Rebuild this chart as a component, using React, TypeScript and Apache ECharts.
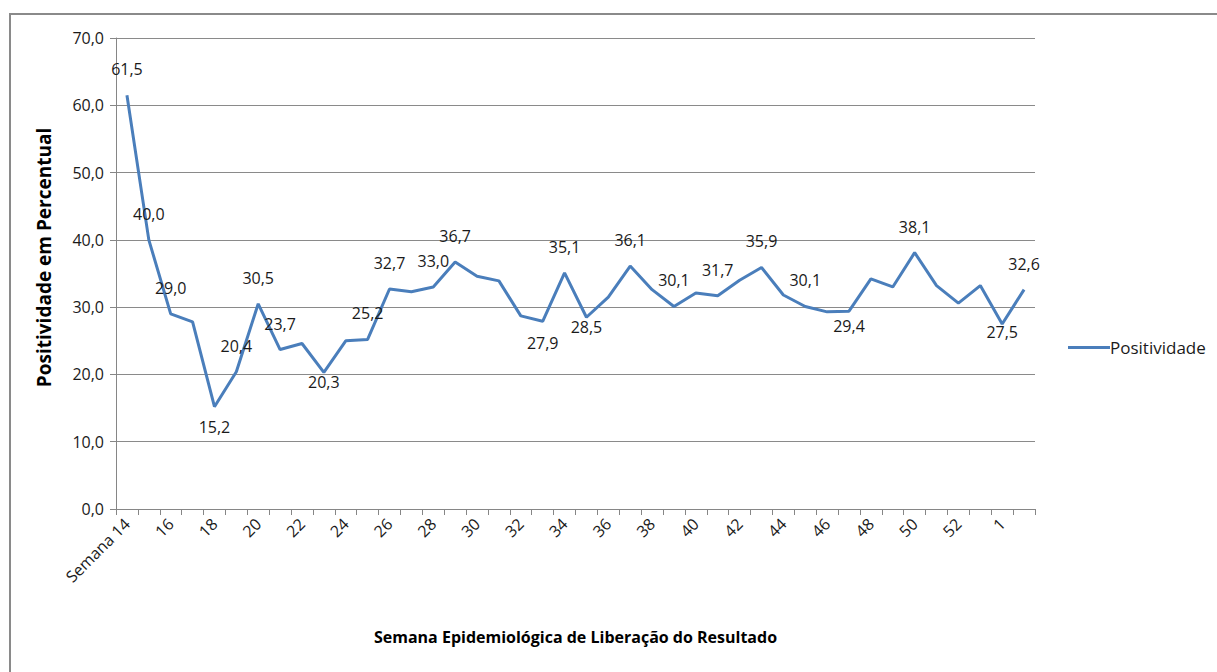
import React, { useEffect, useRef } from "react";
import * as echarts from "echarts";

const weeks: string[] = [
  "Semana 14", "15", "16", "17", "18", "19", "20", "21", "22", "23", "24", "25", "26", "27",
  "28", "29", "30", "31", "32", "33", "34", "35", "36", "37", "38", "39", "40", "41",
  "42", "43", "44", "45", "46", "47", "48", "49", "50", "51", "52", "53", "1", "2",
];

const positividade: number[] = [
  61.5, 40.0, 29.0, 27.8, 15.2, 20.4, 30.5, 23.7, 24.6, 20.3, 25.0, 25.2, 32.7, 32.3,
  33.0, 36.7, 34.6, 33.9, 28.7, 27.9, 35.1, 28.5, 31.5, 36.1, 32.6, 30.1, 32.1, 31.7,
  34.0, 35.9, 31.8, 30.1, 29.3, 29.4, 34.2, 33.0, 38.1, 33.2, 30.6, 33.2, 27.5, 32.6,
];

const yTicks: number[] = [0, 10, 20, 30, 40, 50, 60, 70];

// indices of points whose value is written on the chart, and how the label sits
const labelledAbove: number[] = [0, 1, 2, 5, 6, 7, 11, 12, 14, 15, 20, 23, 25, 27, 29, 31, 36, 41];
const labelledBelow: Record<number, number> = { 4: 12, 9: 2, 19: 14, 21: 2, 33: 7, 40: 0 };

const fmt = (v: number) => v.toFixed(1).replace(".", ",");
const FONT = "'Open Sans', 'Noto Sans', sans-serif";

export default function App() {
  const ref = useRef<HTMLDivElement>(null);

  useEffect(() => {
    if (!ref.current) return;
    const chart = echarts.init(ref.current, undefined, { renderer: "svg" });

    const data = positividade.map((v, i) => {
      if (labelledAbove.includes(i)) {
        return { value: v, label: { show: true, position: "top", distance: 18 } };
      }
      if (labelledBelow[i] !== undefined) {
        return { value: v, label: { show: true, position: "bottom", distance: labelledBelow[i] } };
      }
      return { value: v, label: { show: false } };
    });

    chart.setOption({
      animation: false,
      backgroundColor: "#ffffff",
      graphic: [
        {
          type: "rect",
          shape: { x: 10, y: 14, width: 1240, height: 700 },
          style: { fill: "none", stroke: "#8a8a8a", lineWidth: 2 },
          silent: true,
          z: -10,
        },
      ],
      grid: { left: 116, right: 182, top: 38, bottom: 163, containLabel: false },
      legend: {
        left: 1063,
        top: 334,
        itemWidth: 42,
        itemHeight: 14,
        itemGap: 10,
        icon: "path://M0,6 L42,6 L42,9 L0,9 Z",
        textStyle: { fontFamily: FONT, fontSize: 17, color: "#1a1a1a", padding: [0, 0, 0, -5] },
        data: [{ name: "Positividade", itemStyle: { color: "#4A7EBB" } }],
      },
      xAxis: {
        type: "category",
        data: weeks,
        boundaryGap: true,
        name: "Semana Epidemiológica de Liberação do Resultado",
        nameLocation: "middle",
        nameGap: 120,
        nameTextStyle: { fontFamily: FONT, fontSize: 16, fontWeight: "bold", color: "#000" },
        axisLine: { show: true, lineStyle: { color: "#868686", width: 1 } },
        axisTick: { show: true, interval: 0, length: 6, lineStyle: { color: "#868686" } },
        axisLabel: {
          interval: 1,
          rotate: 45,
          margin: 12,
          fontFamily: FONT,
          fontSize: 16,
          color: "#1a1a1a",
        },
        splitLine: { show: false },
      },
      yAxis: {
        type: "value",
        min: yTicks[0],
        max: yTicks[yTicks.length - 1],
        interval: 10,
        name: "Positividade em Percentual",
        nameLocation: "middle",
        nameGap: 63,
        nameTextStyle: {
          fontFamily: FONT,
          fontSize: 19,
          fontWeight: "bold",
          color: "#000",
          padding: [0, 0, 0, 32],
        },
        axisLine: { show: true, lineStyle: { color: "#868686", width: 1 } },
        axisTick: { show: true, inside: false, length: 6, lineStyle: { color: "#868686" } },
        axisLabel: {
          formatter: (v: number) => fmt(v),
          fontFamily: FONT,
          fontSize: 16,
          color: "#1a1a1a",
          margin: 12,
        },
        splitLine: { show: true, lineStyle: { color: "#8a8a8a", width: 1 } },
      },
      series: [
        {
          name: "Positividade",
          type: "line",
          data,
          symbol: "circle",
          symbolSize: 0,
          showSymbol: true,
          lineStyle: { color: "#4A7EBB", width: 3 },
          itemStyle: { color: "#4A7EBB" },
          label: {
            formatter: (p: any) => fmt(p.value),
            fontFamily: FONT,
            fontSize: 16,
            color: "#1a1a1a",
          },
          labelLayout: { hideOverlap: false },
        },
      ],
    });

    return () => chart.dispose();
  }, []);

  return (
    <div
      ref={ref}
      style={{ position: "fixed", left: 0, top: 0, width: 1217, height: 672, background: "#fff" }}
    />
  );
}
